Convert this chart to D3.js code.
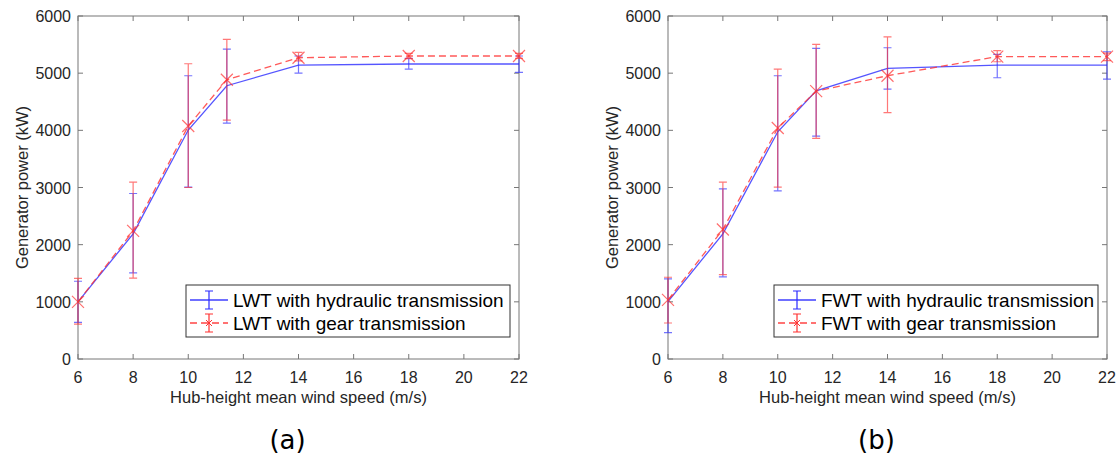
<!DOCTYPE html>
<html>
<head>
<meta charset="utf-8">
<script src="https://cdn.jsdelivr.net/npm/d3@7"></script>
<style>
  body { margin: 0; background: #fff; }
  text { font-family: "Liberation Sans", Arial, sans-serif; fill: #262626; }
  .tick-label { font-size: 16px; }
  .axis-label { font-size: 16.5px; }
  .legend-text { font-size: 19px; fill: #000; }
  .panel-tag { font-family: "DejaVu Sans", sans-serif; font-size: 26px; fill: #000; }
</style>
</head>
<body>
<svg id="fig" width="1118" height="458"></svg>
<script>
// wind speeds (m/s)
const speeds = [6, 8, 10, 11.4, 14, 18, 22]

// (a) land-based wind turbine
const lwtHydMean = [1000, 2190, 4005, 4780, 5140, 5160, 5160]
const lwtHydHi   = [1360, 2895, 4955, 5420, 5300, 5260, 5300]
const lwtHydLo   = [640, 1505, 3005, 4125, 5000, 5070, 5015]
const lwtGearMean = [1000, 2240, 4075, 4885, 5270, 5300, 5300]
const lwtGearHi   = [1410, 3095, 5165, 5590, 5365, 5345, 5345]
const lwtGearLo   = [610, 1415, 3000, 4180, 5215, 5255, 5260]

// (b) floating wind turbine
const fwtHydMean = [1005, 2190, 3975, 4690, 5085, 5140, 5140]
const fwtHydHi   = [1400, 2975, 4955, 5435, 5445, 5330, 5375]
const fwtHydLo   = [460, 1435, 2940, 3900, 4720, 4920, 4895]
const fwtGearMean = [1035, 2265, 4040, 4685, 4955, 5290, 5290]
const fwtGearHi   = [1430, 3095, 5070, 5505, 5635, 5395, 5350]
const fwtGearLo   = [630, 1475, 3005, 3860, 4310, 5200, 5220]

const xTicks = [6, 8, 10, 12, 14, 16, 18, 20, 22]
const yTicks = [0, 1000, 2000, 3000, 4000, 5000, 6000]

const blue = "#2a2aff"
const red = "#ff3030"

function panel(svg, x0, x1, y0, y1, hyd, gear, names, tag)
{
    let xScale = d3.scaleLinear().domain([6, 22]).range([x0, x1])
    let yScale = d3.scaleLinear().domain([0, 6000]).range([y1, y0])
    let g = svg.append("g")

    // box
    g.append("rect").attr("x", x0).attr("y", y0)
        .attr("width", x1 - x0).attr("height", y1 - y0)
        .attr("fill", "none").attr("stroke", "#777").attr("stroke-width", 1)

    // ticks inward, all four sides
    g.selectAll(".xt").data(xTicks).enter().append("path")
        .attr("d", d => `M${xScale(d)},${y1}v-5M${xScale(d)},${y0}v5`)
        .attr("stroke", "#777")
    g.selectAll(".yt").data(yTicks).enter().append("path")
        .attr("d", d => `M${x0},${yScale(d)}h5M${x1},${yScale(d)}h-5`)
        .attr("stroke", "#777")

    g.selectAll(".xl").data(xTicks).enter().append("text")
        .attr("class", "tick-label").attr("x", d => xScale(d)).attr("y", y1 + 24)
        .attr("text-anchor", "middle").text(d => d)
    g.selectAll(".yl").data(yTicks).enter().append("text")
        .attr("class", "tick-label").attr("x", x0 - 7).attr("y", d => yScale(d) + 6)
        .attr("text-anchor", "end").text(d => d)

    // series
    let series = [
        {m: hyd[0], hi: hyd[1], lo: hyd[2], color: blue, dash: null, mark: false},
        {m: gear[0], hi: gear[1], lo: gear[2], color: red, dash: "7,4", mark: true}
    ]
    series.forEach(s => {
        let line = d3.line().x((d, i) => xScale(speeds[i])).y(d => yScale(d))
        // error bars
        speeds.forEach((sp, i) => {
            let cx = xScale(sp)
            g.append("path")
                .attr("d", `M${cx},${yScale(s.hi[i])}V${yScale(s.lo[i])}` +
                    `M${cx - 4},${yScale(s.hi[i])}h8M${cx - 4},${yScale(s.lo[i])}h8`)
                .attr("stroke", s.color).attr("stroke-opacity", 0.65).attr("stroke-width", 1.2)
                .attr("fill", "none")
        })
        g.append("path").datum(s.m)
            .attr("d", line).attr("fill", "none")
            .attr("stroke", s.color).attr("stroke-opacity", 0.8).attr("stroke-width", 1.3)
            .attr("stroke-dasharray", s.dash)
        if (s.mark) {
            g.selectAll(".mk").data(s.m).enter().append("path")
                .attr("d", (d, i) => {
                    let cx = xScale(speeds[i]), cy = yScale(d)
                    return `M${cx - 6},${cy - 6}L${cx + 6},${cy + 6}M${cx - 6},${cy + 6}L${cx + 6},${cy - 6}`
                })
                .attr("stroke", s.color).attr("stroke-opacity", 0.7).attr("stroke-width", 1.2)
        }
    })

    // legend
    let lx = x1 - 333, ly = y1 - 74
    let lg = g.append("g").attr("transform", `translate(${lx},${ly})`)
    lg.append("rect").attr("width", 324).attr("height", 52)
        .attr("fill", "#fff").attr("stroke", "#333").attr("stroke-width", 1)
    series.forEach((s, k) => {
        let yy = 15 + k * 23
        lg.append("path").attr("d", `M4,${yy}H42`).attr("fill", "none")
            .attr("stroke", s.color).attr("stroke-width", 1.3)
            .attr("stroke-dasharray", s.dash).attr("stroke-opacity", 0.9)
        lg.append("path").attr("d", `M23,${yy - 9}V${yy + 9}M19,${yy - 9}h8M19,${yy + 9}h8`)
            .attr("stroke", s.color).attr("stroke-width", 1.2).attr("fill", "none")
        if (s.mark)
            lg.append("path").attr("d", `M20,${yy - 3}l6,6M20,${yy + 3}l6,-6`)
                .attr("stroke", s.color).attr("stroke-width", 1)
        lg.append("text").attr("class", "legend-text").attr("x", 47).attr("y", yy + 7).text(names[k])
    })

    // axis labels
    g.append("text").attr("class", "axis-label")
        .attr("x", (x0 + x1) / 2).attr("y", y1 + 44)
        .attr("text-anchor", "middle").text("Hub-height mean wind speed (m/s)")
    g.append("g")
        .attr("transform", `translate(${x0 - 50},${(y0 + y1) / 2}) rotate(270)`)
        .append("text").attr("class", "axis-label")
        .attr("text-anchor", "middle").text("Generator power (kW)")

    // panel tag
    g.append("text").attr("class", "panel-tag")
        .attr("x", (x0 + x1) / 2 - 11).attr("y", y1 + 90)
        .attr("text-anchor", "middle").text(tag)
}

let svg = d3.select("#fig")
panel(svg, 78, 519, 16, 359,
    [lwtHydMean, lwtHydHi, lwtHydLo], [lwtGearMean, lwtGearHi, lwtGearLo],
    ["LWT with hydraulic transmission", "LWT with gear transmission"], "(a)")
panel(svg, 668, 1107, 16, 359,
    [fwtHydMean, fwtHydHi, fwtHydLo], [fwtGearMean, fwtGearHi, fwtGearLo],
    ["FWT with hydraulic transmission", "FWT with gear transmission"], "(b)")
</script>
</body>
</html>
